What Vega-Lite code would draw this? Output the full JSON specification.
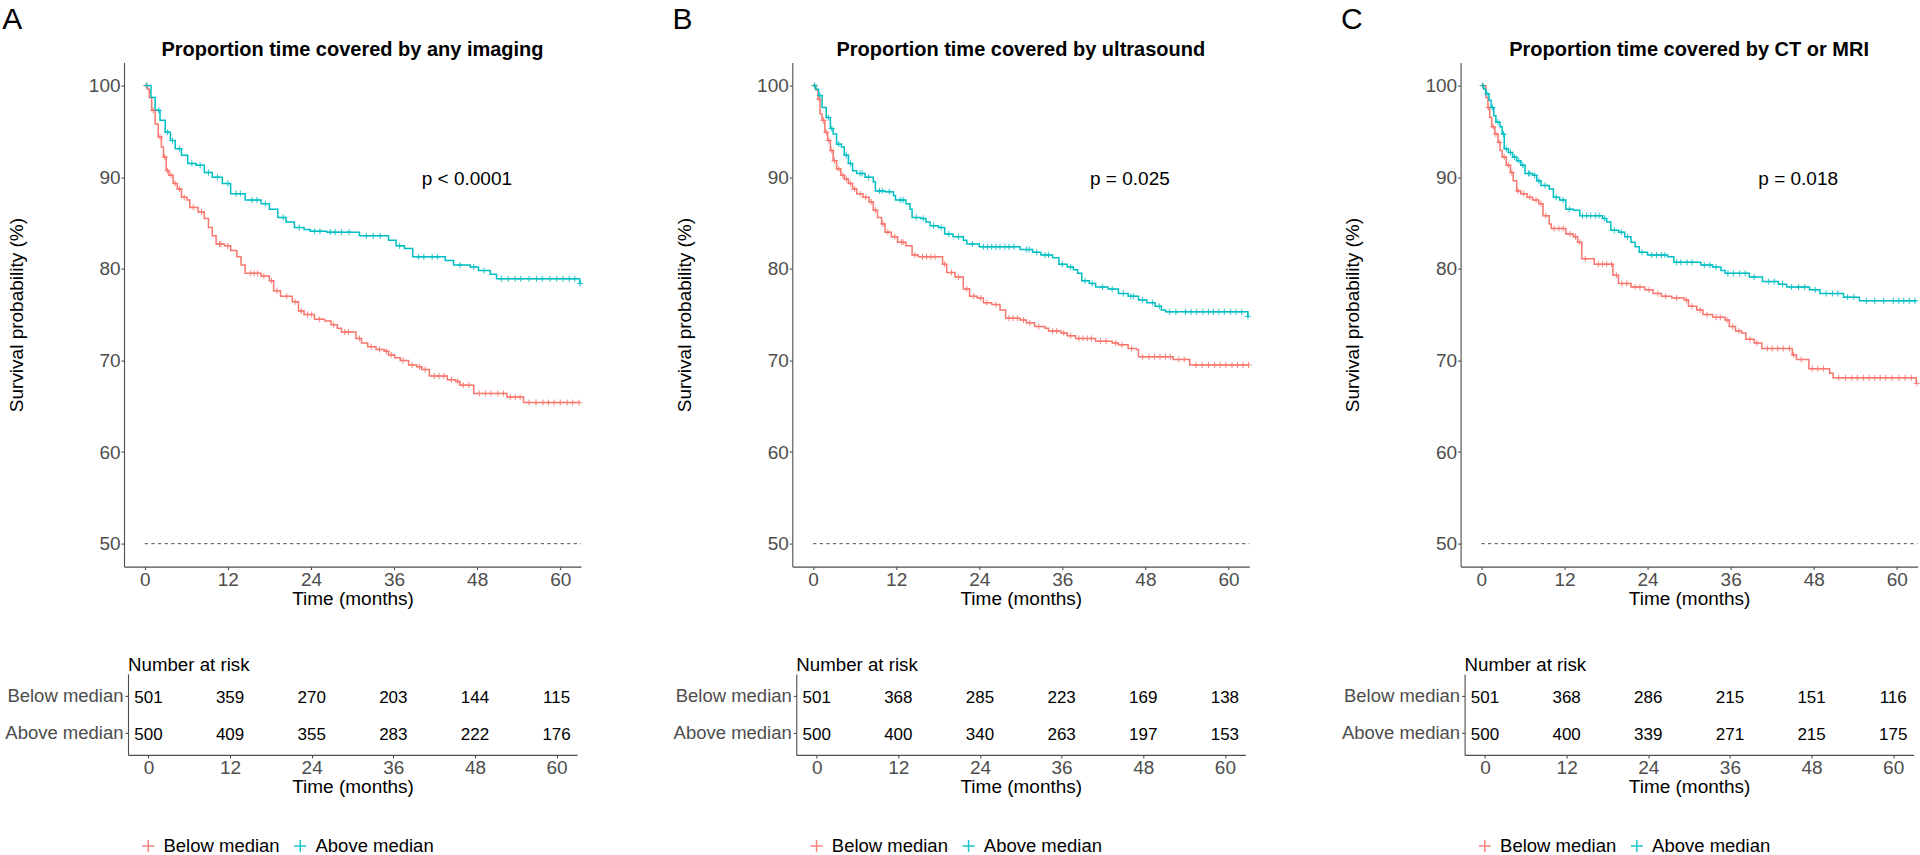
{
"$schema": "https://vega.github.io/schema/vega-lite/v6.json",
"padding": {"left": 2, "top": 4.6, "right": 4, "bottom": 4},
"background": "white",
"config": {
  "font": "Liberation Sans",
  "view": {"stroke": null},
  "axis": {"domainColor": "#4d4d4d", "tickColor": "#4d4d4d", "labelColor": "#4d4d4d", "labelFontSize": 19, "titleFontSize": 19, "titleFontWeight": "normal", "titleColor": "black", "grid": false, "tickSize": 3, "domainWidth": 1.1, "tickWidth": 1.1, "labelFlush": false, "labelOverlap": false},
  "title": {"color": "black", "font": "Liberation Sans"},
  "legend": {"labelFont": "Liberation Sans", "orient": "none", "legendX": 15, "legendY": 774, "direction": "horizontal", "title": null, "symbolType": "M-1,0H1M0,-1V1", "symbolSize": 144, "symbolStrokeWidth": 1.5, "symbolFillColor": "transparent", "labelFontSize": 18.5, "labelColor": "black", "labelOffset": 6, "columnPadding": 11, "padding": 0}
},
"resolve": {"scale": {"color": "independent"}, "legend": {"color": "independent"}},
"datasets": {
"A": [
{"g":"Below median","k":"s","t":0,"s":100},{"g":"Below median","k":"s","t":0.4,"s":99.6},{"g":"Below median","k":"s","t":0.65,"s":98.7},{"g":"Below median","k":"s","t":1.0,"s":97.3},{"g":"Below median","k":"s","t":1.5,"s":95.8},{"g":"Below median","k":"s","t":1.95,"s":94.4},{"g":"Below median","k":"s","t":2.4,"s":93.3},{"g":"Below median","k":"s","t":2.7,"s":92.2},{"g":"Below median","k":"s","t":3.1,"s":90.7},{"g":"Below median","k":"s","t":3.5,"s":90.2},{"g":"Below median","k":"s","t":4.1,"s":89.3},{"g":"Below median","k":"s","t":4.7,"s":88.7},{"g":"Below median","k":"s","t":5.3,"s":87.8},{"g":"Below median","k":"s","t":6.1,"s":87.5},{"g":"Below median","k":"s","t":6.5,"s":86.7},{"g":"Below median","k":"s","t":7.7,"s":86.2},{"g":"Below median","k":"s","t":8.6,"s":85.5},{"g":"Below median","k":"s","t":9.2,"s":84.5},{"g":"Below median","k":"s","t":9.75,"s":83.6},{"g":"Below median","k":"s","t":10.3,"s":82.7},{"g":"Below median","k":"s","t":11.5,"s":82.5},{"g":"Below median","k":"s","t":12.4,"s":82.0},{"g":"Below median","k":"s","t":13.3,"s":81.3},{"g":"Below median","k":"s","t":13.9,"s":80.4},{"g":"Below median","k":"s","t":14.5,"s":79.5},{"g":"Below median","k":"s","t":16.8,"s":79.2},{"g":"Below median","k":"s","t":18.0,"s":78.7},{"g":"Below median","k":"s","t":18.6,"s":77.6},{"g":"Below median","k":"s","t":19.6,"s":77.0},{"g":"Below median","k":"s","t":21.3,"s":76.4},{"g":"Below median","k":"s","t":22.2,"s":75.4},{"g":"Below median","k":"s","t":23.0,"s":75.0},{"g":"Below median","k":"s","t":24.5,"s":74.5},{"g":"Below median","k":"s","t":26.0,"s":74.3},{"g":"Below median","k":"s","t":26.9,"s":73.9},{"g":"Below median","k":"s","t":27.8,"s":73.5},{"g":"Below median","k":"s","t":28.4,"s":73.1},{"g":"Below median","k":"s","t":30.5,"s":72.4},{"g":"Below median","k":"s","t":31.3,"s":71.9},{"g":"Below median","k":"s","t":32.2,"s":71.5},{"g":"Below median","k":"s","t":33.4,"s":71.2},{"g":"Below median","k":"s","t":34.6,"s":71.0},{"g":"Below median","k":"s","t":35.2,"s":70.6},{"g":"Below median","k":"s","t":36.1,"s":70.3},{"g":"Below median","k":"s","t":36.9,"s":70.0},{"g":"Below median","k":"s","t":38.1,"s":69.5},{"g":"Below median","k":"s","t":39.3,"s":69.3},{"g":"Below median","k":"s","t":40.0,"s":69.0},{"g":"Below median","k":"s","t":41.1,"s":68.3},{"g":"Below median","k":"s","t":43.7,"s":67.9},{"g":"Below median","k":"s","t":44.9,"s":67.7},{"g":"Below median","k":"s","t":45.5,"s":67.3},{"g":"Below median","k":"s","t":47.5,"s":66.4},{"g":"Below median","k":"s","t":52.3,"s":66.0},{"g":"Below median","k":"s","t":54.7,"s":65.4},{"g":"Below median","k":"s","t":62.9,"s":65.4},
{"g":"Above median","k":"s","t":0,"s":100},{"g":"Above median","k":"s","t":0.9,"s":98.7},{"g":"Above median","k":"s","t":1.5,"s":97.3},{"g":"Above median","k":"s","t":2.2,"s":96.2},{"g":"Above median","k":"s","t":2.95,"s":94.9},{"g":"Above median","k":"s","t":3.7,"s":94.0},{"g":"Above median","k":"s","t":4.4,"s":93.1},{"g":"Above median","k":"s","t":5.3,"s":92.4},{"g":"Above median","k":"s","t":6.2,"s":91.5},{"g":"Above median","k":"s","t":7.4,"s":91.3},{"g":"Above median","k":"s","t":8.6,"s":90.5},{"g":"Above median","k":"s","t":9.75,"s":90.0},{"g":"Above median","k":"s","t":11.2,"s":89.3},{"g":"Above median","k":"s","t":12.4,"s":88.2},{"g":"Above median","k":"s","t":14.5,"s":87.5},{"g":"Above median","k":"s","t":16.8,"s":87.1},{"g":"Above median","k":"s","t":18.0,"s":86.5},{"g":"Above median","k":"s","t":19.2,"s":85.6},{"g":"Above median","k":"s","t":20.4,"s":85.1},{"g":"Above median","k":"s","t":21.6,"s":84.5},{"g":"Above median","k":"s","t":23.0,"s":84.3},{"g":"Above median","k":"s","t":23.9,"s":84.1},{"g":"Above median","k":"s","t":26.3,"s":84.0},{"g":"Above median","k":"s","t":31.0,"s":83.6},{"g":"Above median","k":"s","t":35.2,"s":83.1},{"g":"Above median","k":"s","t":36.3,"s":82.5},{"g":"Above median","k":"s","t":37.5,"s":82.2},{"g":"Above median","k":"s","t":38.7,"s":81.3},{"g":"Above median","k":"s","t":43.4,"s":80.9},{"g":"Above median","k":"s","t":44.6,"s":80.4},{"g":"Above median","k":"s","t":47.0,"s":80.2},{"g":"Above median","k":"s","t":48.2,"s":79.8},{"g":"Above median","k":"s","t":49.9,"s":79.4},{"g":"Above median","k":"s","t":50.8,"s":78.9},{"g":"Above median","k":"s","t":62.8,"s":78.4},{"g":"Above median","k":"s","t":62.9,"s":78.4},
{"g":"Below median","k":"c","t":0.2,"s":100},{"g":"Below median","k":"c","t":1.2,"s":97.3},{"g":"Below median","k":"c","t":2.2,"s":94.4},{"g":"Below median","k":"c","t":2.9,"s":92.2},{"g":"Below median","k":"c","t":3.3,"s":90.7},{"g":"Below median","k":"c","t":3.8,"s":90.2},{"g":"Below median","k":"c","t":4.4,"s":89.3},{"g":"Below median","k":"c","t":5.0,"s":88.7},{"g":"Below median","k":"c","t":5.7,"s":87.8},{"g":"Below median","k":"c","t":7.0,"s":86.7},{"g":"Below median","k":"c","t":8.2,"s":86.2},{"g":"Below median","k":"c","t":10.8,"s":82.7},{"g":"Below median","k":"c","t":11.0,"s":82.7},{"g":"Below median","k":"c","t":12.0,"s":82.5},{"g":"Below median","k":"c","t":15.3,"s":79.5},{"g":"Below median","k":"c","t":15.8,"s":79.5},{"g":"Below median","k":"c","t":16.3,"s":79.5},{"g":"Below median","k":"c","t":17.2,"s":79.2},{"g":"Below median","k":"c","t":18.3,"s":78.7},{"g":"Below median","k":"c","t":19.1,"s":77.6},{"g":"Below median","k":"c","t":20.5,"s":77.0},{"g":"Below median","k":"c","t":21.7,"s":76.4},{"g":"Below median","k":"c","t":22.6,"s":75.4},{"g":"Below median","k":"c","t":23.5,"s":75.0},{"g":"Below median","k":"c","t":24.1,"s":75.0},{"g":"Below median","k":"c","t":25.2,"s":74.5},{"g":"Below median","k":"c","t":27.3,"s":73.9},{"g":"Below median","k":"c","t":28.9,"s":73.1},{"g":"Below median","k":"c","t":29.4,"s":73.1},{"g":"Below median","k":"c","t":31.0,"s":72.4},{"g":"Below median","k":"c","t":32.7,"s":71.5},{"g":"Below median","k":"c","t":33.9,"s":71.2},{"g":"Below median","k":"c","t":34.9,"s":71.0},{"g":"Below median","k":"c","t":35.6,"s":70.6},{"g":"Below median","k":"c","t":37.3,"s":70.0},{"g":"Below median","k":"c","t":38.6,"s":69.5},{"g":"Below median","k":"c","t":39.7,"s":69.3},{"g":"Below median","k":"c","t":40.5,"s":69.0},{"g":"Below median","k":"c","t":41.8,"s":68.3},{"g":"Below median","k":"c","t":42.5,"s":68.3},{"g":"Below median","k":"c","t":43.2,"s":68.3},{"g":"Below median","k":"c","t":44.3,"s":67.9},{"g":"Below median","k":"c","t":45.2,"s":67.7},{"g":"Below median","k":"c","t":46.0,"s":67.3},{"g":"Below median","k":"c","t":46.8,"s":67.3},{"g":"Below median","k":"c","t":48.3,"s":66.4},{"g":"Below median","k":"c","t":49.2,"s":66.4},{"g":"Below median","k":"c","t":50.0,"s":66.4},{"g":"Below median","k":"c","t":51.0,"s":66.4},{"g":"Below median","k":"c","t":51.8,"s":66.4},{"g":"Below median","k":"c","t":52.8,"s":66.0},{"g":"Below median","k":"c","t":53.5,"s":66.0},{"g":"Below median","k":"c","t":54.2,"s":66.0},{"g":"Below median","k":"c","t":55.5,"s":65.4},{"g":"Below median","k":"c","t":56.5,"s":65.4},{"g":"Below median","k":"c","t":57.5,"s":65.4},{"g":"Below median","k":"c","t":58.3,"s":65.4},{"g":"Below median","k":"c","t":59.1,"s":65.4},{"g":"Below median","k":"c","t":60.0,"s":65.4},{"g":"Below median","k":"c","t":61.0,"s":65.4},{"g":"Below median","k":"c","t":61.8,"s":65.4},{"g":"Below median","k":"c","t":62.7,"s":65.4},
{"g":"Above median","k":"c","t":0.3,"s":100},{"g":"Above median","k":"c","t":2.0,"s":97.3},{"g":"Above median","k":"c","t":3.3,"s":94.9},{"g":"Above median","k":"c","t":4.0,"s":94.0},{"g":"Above median","k":"c","t":5.0,"s":93.1},{"g":"Above median","k":"c","t":6.8,"s":91.5},{"g":"Above median","k":"c","t":8.0,"s":91.3},{"g":"Above median","k":"c","t":9.2,"s":90.5},{"g":"Above median","k":"c","t":10.5,"s":90.0},{"g":"Above median","k":"c","t":12.0,"s":89.3},{"g":"Above median","k":"c","t":13.2,"s":88.2},{"g":"Above median","k":"c","t":13.8,"s":88.2},{"g":"Above median","k":"c","t":15.5,"s":87.5},{"g":"Above median","k":"c","t":16.2,"s":87.5},{"g":"Above median","k":"c","t":17.4,"s":87.1},{"g":"Above median","k":"c","t":20.0,"s":85.6},{"g":"Above median","k":"c","t":22.3,"s":84.5},{"g":"Above median","k":"c","t":24.5,"s":84.1},{"g":"Above median","k":"c","t":25.3,"s":84.1},{"g":"Above median","k":"c","t":26.8,"s":84.0},{"g":"Above median","k":"c","t":27.5,"s":84.0},{"g":"Above median","k":"c","t":28.4,"s":84.0},{"g":"Above median","k":"c","t":29.5,"s":84.0},{"g":"Above median","k":"c","t":32.0,"s":83.6},{"g":"Above median","k":"c","t":33.0,"s":83.6},{"g":"Above median","k":"c","t":34.0,"s":83.6},{"g":"Above median","k":"c","t":36.8,"s":82.5},{"g":"Above median","k":"c","t":39.5,"s":81.3},{"g":"Above median","k":"c","t":40.3,"s":81.3},{"g":"Above median","k":"c","t":41.5,"s":81.3},{"g":"Above median","k":"c","t":42.3,"s":81.3},{"g":"Above median","k":"c","t":45.5,"s":80.4},{"g":"Above median","k":"c","t":47.5,"s":80.2},{"g":"Above median","k":"c","t":49.0,"s":79.8},{"g":"Above median","k":"c","t":51.5,"s":78.9},{"g":"Above median","k":"c","t":52.5,"s":78.9},{"g":"Above median","k":"c","t":53.5,"s":78.9},{"g":"Above median","k":"c","t":54.3,"s":78.9},{"g":"Above median","k":"c","t":55.5,"s":78.9},{"g":"Above median","k":"c","t":56.6,"s":78.9},{"g":"Above median","k":"c","t":57.4,"s":78.9},{"g":"Above median","k":"c","t":58.5,"s":78.9},{"g":"Above median","k":"c","t":59.5,"s":78.9},{"g":"Above median","k":"c","t":60.4,"s":78.9},{"g":"Above median","k":"c","t":61.3,"s":78.9},{"g":"Above median","k":"c","t":62.1,"s":78.9},{"g":"Above median","k":"c","t":62.9,"s":78.4}
],
"B": [
{"g":"Below median","k":"s","t":0,"s":100},{"g":"Below median","k":"s","t":0.4,"s":99.5},{"g":"Below median","k":"s","t":0.7,"s":98.5},{"g":"Below median","k":"s","t":1.0,"s":96.9},{"g":"Below median","k":"s","t":1.3,"s":96.2},{"g":"Below median","k":"s","t":1.7,"s":94.9},{"g":"Below median","k":"s","t":2.1,"s":94.0},{"g":"Below median","k":"s","t":2.5,"s":92.9},{"g":"Below median","k":"s","t":2.9,"s":91.8},{"g":"Below median","k":"s","t":3.4,"s":90.9},{"g":"Below median","k":"s","t":4.0,"s":90.2},{"g":"Below median","k":"s","t":4.5,"s":89.8},{"g":"Below median","k":"s","t":5.1,"s":89.3},{"g":"Below median","k":"s","t":5.7,"s":88.7},{"g":"Below median","k":"s","t":6.3,"s":88.2},{"g":"Below median","k":"s","t":7.2,"s":87.8},{"g":"Below median","k":"s","t":8.1,"s":87.3},{"g":"Below median","k":"s","t":8.7,"s":86.4},{"g":"Below median","k":"s","t":9.3,"s":85.6},{"g":"Below median","k":"s","t":9.9,"s":84.9},{"g":"Below median","k":"s","t":10.4,"s":84.0},{"g":"Below median","k":"s","t":11.3,"s":83.5},{"g":"Below median","k":"s","t":12.2,"s":82.9},{"g":"Below median","k":"s","t":13.4,"s":82.5},{"g":"Below median","k":"s","t":14.3,"s":81.5},{"g":"Below median","k":"s","t":15.2,"s":81.3},{"g":"Below median","k":"s","t":18.7,"s":80.5},{"g":"Below median","k":"s","t":19.3,"s":79.6},{"g":"Below median","k":"s","t":20.5,"s":79.1},{"g":"Below median","k":"s","t":21.7,"s":77.8},{"g":"Below median","k":"s","t":22.6,"s":77.0},{"g":"Below median","k":"s","t":23.7,"s":76.8},{"g":"Below median","k":"s","t":24.6,"s":76.3},{"g":"Below median","k":"s","t":25.8,"s":76.1},{"g":"Below median","k":"s","t":27.0,"s":75.5},{"g":"Below median","k":"s","t":27.8,"s":74.6},{"g":"Below median","k":"s","t":29.9,"s":74.4},{"g":"Below median","k":"s","t":30.8,"s":74.1},{"g":"Below median","k":"s","t":32.0,"s":73.7},{"g":"Below median","k":"s","t":33.5,"s":73.5},{"g":"Below median","k":"s","t":34.0,"s":73.2},{"g":"Below median","k":"s","t":35.8,"s":73.0},{"g":"Below median","k":"s","t":36.7,"s":72.7},{"g":"Below median","k":"s","t":37.9,"s":72.4},{"g":"Below median","k":"s","t":40.8,"s":72.1},{"g":"Below median","k":"s","t":43.2,"s":71.9},{"g":"Below median","k":"s","t":44.1,"s":71.7},{"g":"Below median","k":"s","t":45.5,"s":71.3},{"g":"Below median","k":"s","t":46.7,"s":71.2},{"g":"Below median","k":"s","t":47.0,"s":70.4},{"g":"Below median","k":"s","t":52.0,"s":70.1},{"g":"Below median","k":"s","t":54.4,"s":69.5},{"g":"Below median","k":"s","t":62.9,"s":69.5},
{"g":"Above median","k":"s","t":0,"s":100},{"g":"Above median","k":"s","t":0.4,"s":99.6},{"g":"Above median","k":"s","t":0.8,"s":98.9},{"g":"Above median","k":"s","t":1.3,"s":97.6},{"g":"Above median","k":"s","t":1.9,"s":96.5},{"g":"Above median","k":"s","t":2.5,"s":95.3},{"g":"Above median","k":"s","t":2.9,"s":94.7},{"g":"Above median","k":"s","t":3.4,"s":93.6},{"g":"Above median","k":"s","t":4.1,"s":93.3},{"g":"Above median","k":"s","t":4.5,"s":92.4},{"g":"Above median","k":"s","t":5.1,"s":91.5},{"g":"Above median","k":"s","t":5.7,"s":90.7},{"g":"Above median","k":"s","t":6.3,"s":90.4},{"g":"Above median","k":"s","t":7.5,"s":90.0},{"g":"Above median","k":"s","t":8.7,"s":89.5},{"g":"Above median","k":"s","t":9.0,"s":88.5},{"g":"Above median","k":"s","t":10.4,"s":88.4},{"g":"Above median","k":"s","t":11.6,"s":88.0},{"g":"Above median","k":"s","t":11.9,"s":87.5},{"g":"Above median","k":"s","t":13.4,"s":87.1},{"g":"Above median","k":"s","t":14.0,"s":86.5},{"g":"Above median","k":"s","t":14.3,"s":85.6},{"g":"Above median","k":"s","t":15.5,"s":85.5},{"g":"Above median","k":"s","t":16.3,"s":85.1},{"g":"Above median","k":"s","t":16.9,"s":84.7},{"g":"Above median","k":"s","t":18.1,"s":84.5},{"g":"Above median","k":"s","t":19.0,"s":83.8},{"g":"Above median","k":"s","t":20.2,"s":83.5},{"g":"Above median","k":"s","t":21.7,"s":83.1},{"g":"Above median","k":"s","t":22.2,"s":82.7},{"g":"Above median","k":"s","t":24.0,"s":82.4},{"g":"Above median","k":"s","t":29.9,"s":82.1},{"g":"Above median","k":"s","t":31.7,"s":81.8},{"g":"Above median","k":"s","t":32.9,"s":81.5},{"g":"Above median","k":"s","t":34.6,"s":81.2},{"g":"Above median","k":"s","t":35.5,"s":80.5},{"g":"Above median","k":"s","t":36.7,"s":80.2},{"g":"Above median","k":"s","t":37.6,"s":79.9},{"g":"Above median","k":"s","t":38.2,"s":79.5},{"g":"Above median","k":"s","t":38.8,"s":78.7},{"g":"Above median","k":"s","t":39.9,"s":78.4},{"g":"Above median","k":"s","t":40.8,"s":78.0},{"g":"Above median","k":"s","t":42.6,"s":77.8},{"g":"Above median","k":"s","t":44.1,"s":77.3},{"g":"Above median","k":"s","t":45.5,"s":77.0},{"g":"Above median","k":"s","t":47.0,"s":76.6},{"g":"Above median","k":"s","t":48.2,"s":76.3},{"g":"Above median","k":"s","t":49.4,"s":75.9},{"g":"Above median","k":"s","t":50.3,"s":75.5},{"g":"Above median","k":"s","t":50.9,"s":75.3},{"g":"Above median","k":"s","t":62.8,"s":74.8},{"g":"Above median","k":"s","t":62.9,"s":74.8},
{"g":"Below median","k":"c","t":0.2,"s":100},{"g":"Below median","k":"c","t":0.9,"s":98.5},{"g":"Below median","k":"c","t":1.5,"s":96.2},{"g":"Below median","k":"c","t":1.9,"s":94.9},{"g":"Below median","k":"c","t":2.3,"s":94.0},{"g":"Below median","k":"c","t":2.7,"s":92.9},{"g":"Below median","k":"c","t":3.1,"s":91.8},{"g":"Below median","k":"c","t":3.7,"s":90.9},{"g":"Below median","k":"c","t":4.3,"s":90.2},{"g":"Below median","k":"c","t":4.8,"s":89.8},{"g":"Below median","k":"c","t":5.4,"s":89.3},{"g":"Below median","k":"c","t":6.0,"s":88.7},{"g":"Below median","k":"c","t":6.8,"s":88.2},{"g":"Below median","k":"c","t":7.6,"s":87.8},{"g":"Below median","k":"c","t":8.4,"s":87.3},{"g":"Below median","k":"c","t":9.0,"s":86.4},{"g":"Below median","k":"c","t":10.1,"s":84.9},{"g":"Below median","k":"c","t":10.8,"s":84.0},{"g":"Below median","k":"c","t":11.8,"s":83.5},{"g":"Below median","k":"c","t":12.8,"s":82.9},{"g":"Below median","k":"c","t":13.0,"s":82.9},{"g":"Below median","k":"c","t":14.7,"s":81.5},{"g":"Below median","k":"c","t":15.8,"s":81.3},{"g":"Below median","k":"c","t":16.4,"s":81.3},{"g":"Below median","k":"c","t":17.0,"s":81.3},{"g":"Below median","k":"c","t":17.6,"s":81.3},{"g":"Below median","k":"c","t":19.0,"s":80.5},{"g":"Below median","k":"c","t":20.0,"s":79.6},{"g":"Below median","k":"c","t":21.0,"s":79.1},{"g":"Below median","k":"c","t":22.2,"s":77.8},{"g":"Below median","k":"c","t":23.2,"s":77.0},{"g":"Below median","k":"c","t":24.2,"s":76.8},{"g":"Below median","k":"c","t":25.1,"s":76.3},{"g":"Below median","k":"c","t":26.4,"s":76.1},{"g":"Below median","k":"c","t":28.3,"s":74.6},{"g":"Below median","k":"c","t":28.9,"s":74.6},{"g":"Below median","k":"c","t":29.5,"s":74.6},{"g":"Below median","k":"c","t":30.4,"s":74.4},{"g":"Below median","k":"c","t":31.3,"s":74.1},{"g":"Below median","k":"c","t":32.6,"s":73.7},{"g":"Below median","k":"c","t":34.6,"s":73.2},{"g":"Below median","k":"c","t":35.2,"s":73.2},{"g":"Below median","k":"c","t":36.2,"s":73.0},{"g":"Below median","k":"c","t":37.2,"s":72.7},{"g":"Below median","k":"c","t":38.4,"s":72.4},{"g":"Below median","k":"c","t":39.0,"s":72.4},{"g":"Below median","k":"c","t":39.6,"s":72.4},{"g":"Below median","k":"c","t":40.2,"s":72.4},{"g":"Below median","k":"c","t":41.5,"s":72.1},{"g":"Below median","k":"c","t":42.3,"s":72.1},{"g":"Below median","k":"c","t":43.7,"s":71.9},{"g":"Below median","k":"c","t":44.6,"s":71.7},{"g":"Below median","k":"c","t":46.0,"s":71.3},{"g":"Below median","k":"c","t":47.6,"s":70.4},{"g":"Below median","k":"c","t":48.5,"s":70.4},{"g":"Below median","k":"c","t":49.3,"s":70.4},{"g":"Below median","k":"c","t":50.1,"s":70.4},{"g":"Below median","k":"c","t":50.9,"s":70.4},{"g":"Below median","k":"c","t":51.6,"s":70.4},{"g":"Below median","k":"c","t":52.8,"s":70.1},{"g":"Below median","k":"c","t":53.6,"s":70.1},{"g":"Below median","k":"c","t":55.3,"s":69.5},{"g":"Below median","k":"c","t":56.2,"s":69.5},{"g":"Below median","k":"c","t":57.1,"s":69.5},{"g":"Below median","k":"c","t":58.0,"s":69.5},{"g":"Below median","k":"c","t":58.8,"s":69.5},{"g":"Below median","k":"c","t":59.6,"s":69.5},{"g":"Below median","k":"c","t":60.5,"s":69.5},{"g":"Below median","k":"c","t":61.3,"s":69.5},{"g":"Below median","k":"c","t":62.1,"s":69.5},{"g":"Below median","k":"c","t":62.9,"s":69.5},
{"g":"Above median","k":"c","t":0.2,"s":100},{"g":"Above median","k":"c","t":1.0,"s":98.9},{"g":"Above median","k":"c","t":2.2,"s":96.5},{"g":"Above median","k":"c","t":2.7,"s":95.3},{"g":"Above median","k":"c","t":3.7,"s":93.6},{"g":"Above median","k":"c","t":4.8,"s":92.4},{"g":"Above median","k":"c","t":5.4,"s":91.5},{"g":"Above median","k":"c","t":6.8,"s":90.4},{"g":"Above median","k":"c","t":7.1,"s":90.4},{"g":"Above median","k":"c","t":8.0,"s":90.0},{"g":"Above median","k":"c","t":9.6,"s":88.5},{"g":"Above median","k":"c","t":10.0,"s":88.5},{"g":"Above median","k":"c","t":11.0,"s":88.4},{"g":"Above median","k":"c","t":12.6,"s":87.5},{"g":"Above median","k":"c","t":13.0,"s":87.5},{"g":"Above median","k":"c","t":14.9,"s":85.6},{"g":"Above median","k":"c","t":15.9,"s":85.5},{"g":"Above median","k":"c","t":17.4,"s":84.7},{"g":"Above median","k":"c","t":18.5,"s":84.5},{"g":"Above median","k":"c","t":19.6,"s":83.8},{"g":"Above median","k":"c","t":21.0,"s":83.5},{"g":"Above median","k":"c","t":23.0,"s":82.7},{"g":"Above median","k":"c","t":24.6,"s":82.4},{"g":"Above median","k":"c","t":25.2,"s":82.4},{"g":"Above median","k":"c","t":25.8,"s":82.4},{"g":"Above median","k":"c","t":26.4,"s":82.4},{"g":"Above median","k":"c","t":27.0,"s":82.4},{"g":"Above median","k":"c","t":27.7,"s":82.4},{"g":"Above median","k":"c","t":28.3,"s":82.4},{"g":"Above median","k":"c","t":29.0,"s":82.4},{"g":"Above median","k":"c","t":30.8,"s":82.1},{"g":"Above median","k":"c","t":31.2,"s":82.1},{"g":"Above median","k":"c","t":32.3,"s":81.8},{"g":"Above median","k":"c","t":33.5,"s":81.5},{"g":"Above median","k":"c","t":34.0,"s":81.5},{"g":"Above median","k":"c","t":36.0,"s":80.5},{"g":"Above median","k":"c","t":37.2,"s":80.2},{"g":"Above median","k":"c","t":39.3,"s":78.7},{"g":"Above median","k":"c","t":40.3,"s":78.4},{"g":"Above median","k":"c","t":41.8,"s":78.0},{"g":"Above median","k":"c","t":43.2,"s":77.8},{"g":"Above median","k":"c","t":44.8,"s":77.3},{"g":"Above median","k":"c","t":45.9,"s":77.0},{"g":"Above median","k":"c","t":46.3,"s":77.0},{"g":"Above median","k":"c","t":47.6,"s":76.6},{"g":"Above median","k":"c","t":49.0,"s":76.3},{"g":"Above median","k":"c","t":50.0,"s":75.9},{"g":"Above median","k":"c","t":51.5,"s":75.3},{"g":"Above median","k":"c","t":52.4,"s":75.3},{"g":"Above median","k":"c","t":53.8,"s":75.3},{"g":"Above median","k":"c","t":54.6,"s":75.3},{"g":"Above median","k":"c","t":55.4,"s":75.3},{"g":"Above median","k":"c","t":56.3,"s":75.3},{"g":"Above median","k":"c","t":57.1,"s":75.3},{"g":"Above median","k":"c","t":57.8,"s":75.3},{"g":"Above median","k":"c","t":58.6,"s":75.3},{"g":"Above median","k":"c","t":59.4,"s":75.3},{"g":"Above median","k":"c","t":60.3,"s":75.3},{"g":"Above median","k":"c","t":61.1,"s":75.3},{"g":"Above median","k":"c","t":61.9,"s":75.3},{"g":"Above median","k":"c","t":62.8,"s":74.8}
],
"C": [
{"g":"Below median","k":"s","t":0,"s":100},{"g":"Below median","k":"s","t":0.65,"s":98.7},{"g":"Below median","k":"s","t":0.95,"s":97.6},{"g":"Below median","k":"s","t":1.2,"s":96.5},{"g":"Below median","k":"s","t":1.5,"s":95.5},{"g":"Below median","k":"s","t":1.95,"s":94.7},{"g":"Below median","k":"s","t":2.4,"s":93.8},{"g":"Below median","k":"s","t":2.7,"s":92.9},{"g":"Below median","k":"s","t":3.0,"s":92.2},{"g":"Below median","k":"s","t":3.6,"s":91.3},{"g":"Below median","k":"s","t":4.2,"s":90.5},{"g":"Below median","k":"s","t":4.6,"s":89.6},{"g":"Below median","k":"s","t":5.1,"s":88.5},{"g":"Below median","k":"s","t":5.7,"s":88.2},{"g":"Below median","k":"s","t":6.6,"s":87.8},{"g":"Below median","k":"s","t":7.4,"s":87.5},{"g":"Below median","k":"s","t":8.3,"s":87.1},{"g":"Below median","k":"s","t":8.9,"s":85.8},{"g":"Below median","k":"s","t":9.8,"s":84.9},{"g":"Below median","k":"s","t":10.1,"s":84.4},{"g":"Below median","k":"s","t":12.2,"s":83.8},{"g":"Below median","k":"s","t":13.3,"s":83.5},{"g":"Below median","k":"s","t":13.9,"s":82.9},{"g":"Below median","k":"s","t":14.5,"s":81.1},{"g":"Below median","k":"s","t":16.3,"s":80.5},{"g":"Below median","k":"s","t":19.0,"s":79.3},{"g":"Below median","k":"s","t":19.8,"s":78.4},{"g":"Below median","k":"s","t":21.6,"s":78.0},{"g":"Below median","k":"s","t":23.6,"s":77.7},{"g":"Below median","k":"s","t":24.8,"s":77.3},{"g":"Below median","k":"s","t":26.0,"s":77.0},{"g":"Below median","k":"s","t":27.5,"s":76.8},{"g":"Below median","k":"s","t":29.3,"s":76.6},{"g":"Below median","k":"s","t":29.9,"s":75.9},{"g":"Below median","k":"s","t":31.1,"s":75.5},{"g":"Below median","k":"s","t":32.0,"s":75.0},{"g":"Below median","k":"s","t":33.4,"s":74.7},{"g":"Below median","k":"s","t":35.2,"s":74.4},{"g":"Below median","k":"s","t":35.8,"s":73.7},{"g":"Below median","k":"s","t":36.7,"s":73.2},{"g":"Below median","k":"s","t":37.6,"s":73.0},{"g":"Below median","k":"s","t":38.2,"s":72.3},{"g":"Below median","k":"s","t":39.4,"s":71.9},{"g":"Below median","k":"s","t":40.5,"s":71.3},{"g":"Below median","k":"s","t":44.9,"s":70.6},{"g":"Below median","k":"s","t":45.5,"s":70.1},{"g":"Below median","k":"s","t":47.3,"s":69.1},{"g":"Below median","k":"s","t":50.3,"s":68.6},{"g":"Below median","k":"s","t":50.8,"s":68.1},{"g":"Below median","k":"s","t":62.8,"s":67.5},{"g":"Below median","k":"s","t":62.9,"s":67.5},
{"g":"Above median","k":"s","t":0,"s":100},{"g":"Above median","k":"s","t":0.35,"s":99.6},{"g":"Above median","k":"s","t":0.65,"s":99.1},{"g":"Above median","k":"s","t":1.1,"s":98.4},{"g":"Above median","k":"s","t":1.4,"s":97.6},{"g":"Above median","k":"s","t":1.8,"s":96.7},{"g":"Above median","k":"s","t":2.1,"s":96.0},{"g":"Above median","k":"s","t":2.7,"s":95.5},{"g":"Above median","k":"s","t":3.0,"s":94.7},{"g":"Above median","k":"s","t":3.3,"s":93.1},{"g":"Above median","k":"s","t":3.9,"s":92.7},{"g":"Above median","k":"s","t":4.5,"s":92.2},{"g":"Above median","k":"s","t":5.1,"s":91.8},{"g":"Above median","k":"s","t":5.7,"s":91.3},{"g":"Above median","k":"s","t":6.3,"s":90.4},{"g":"Above median","k":"s","t":7.4,"s":90.2},{"g":"Above median","k":"s","t":8.0,"s":89.6},{"g":"Above median","k":"s","t":8.6,"s":89.1},{"g":"Above median","k":"s","t":9.8,"s":88.7},{"g":"Above median","k":"s","t":10.4,"s":87.8},{"g":"Above median","k":"s","t":11.3,"s":87.5},{"g":"Above median","k":"s","t":12.2,"s":86.5},{"g":"Above median","k":"s","t":13.3,"s":86.4},{"g":"Above median","k":"s","t":14.2,"s":85.8},{"g":"Above median","k":"s","t":17.5,"s":85.5},{"g":"Above median","k":"s","t":18.1,"s":85.1},{"g":"Above median","k":"s","t":18.7,"s":84.2},{"g":"Above median","k":"s","t":19.8,"s":84.0},{"g":"Above median","k":"s","t":20.7,"s":83.5},{"g":"Above median","k":"s","t":21.6,"s":82.9},{"g":"Above median","k":"s","t":22.2,"s":82.4},{"g":"Above median","k":"s","t":22.8,"s":81.8},{"g":"Above median","k":"s","t":24.0,"s":81.5},{"g":"Above median","k":"s","t":26.9,"s":81.3},{"g":"Above median","k":"s","t":27.8,"s":80.7},{"g":"Above median","k":"s","t":31.7,"s":80.4},{"g":"Above median","k":"s","t":33.4,"s":80.2},{"g":"Above median","k":"s","t":34.6,"s":79.8},{"g":"Above median","k":"s","t":35.2,"s":79.5},{"g":"Above median","k":"s","t":38.7,"s":79.1},{"g":"Above median","k":"s","t":40.6,"s":78.6},{"g":"Above median","k":"s","t":42.9,"s":78.3},{"g":"Above median","k":"s","t":44.1,"s":78.0},{"g":"Above median","k":"s","t":47.4,"s":77.7},{"g":"Above median","k":"s","t":48.9,"s":77.3},{"g":"Above median","k":"s","t":52.3,"s":76.9},{"g":"Above median","k":"s","t":54.6,"s":76.5},{"g":"Above median","k":"s","t":62.9,"s":76.5},
{"g":"Below median","k":"c","t":0.2,"s":100},{"g":"Below median","k":"c","t":1.0,"s":97.6},{"g":"Below median","k":"c","t":1.7,"s":95.5},{"g":"Below median","k":"c","t":2.1,"s":94.7},{"g":"Below median","k":"c","t":2.6,"s":93.8},{"g":"Below median","k":"c","t":3.3,"s":92.2},{"g":"Below median","k":"c","t":3.9,"s":91.3},{"g":"Below median","k":"c","t":4.4,"s":90.5},{"g":"Below median","k":"c","t":5.3,"s":88.5},{"g":"Below median","k":"c","t":6.1,"s":88.2},{"g":"Below median","k":"c","t":7.0,"s":87.8},{"g":"Below median","k":"c","t":7.9,"s":87.5},{"g":"Below median","k":"c","t":8.6,"s":87.1},{"g":"Below median","k":"c","t":9.3,"s":85.8},{"g":"Below median","k":"c","t":10.5,"s":84.4},{"g":"Below median","k":"c","t":11.2,"s":84.4},{"g":"Below median","k":"c","t":11.8,"s":84.4},{"g":"Below median","k":"c","t":12.8,"s":83.8},{"g":"Below median","k":"c","t":13.6,"s":83.5},{"g":"Below median","k":"c","t":14.2,"s":82.9},{"g":"Below median","k":"c","t":15.0,"s":81.1},{"g":"Below median","k":"c","t":16.9,"s":80.5},{"g":"Below median","k":"c","t":17.5,"s":80.5},{"g":"Below median","k":"c","t":18.1,"s":80.5},{"g":"Below median","k":"c","t":18.8,"s":80.5},{"g":"Below median","k":"c","t":19.5,"s":79.3},{"g":"Below median","k":"c","t":20.3,"s":78.4},{"g":"Below median","k":"c","t":21.0,"s":78.4},{"g":"Below median","k":"c","t":22.2,"s":78.0},{"g":"Below median","k":"c","t":22.9,"s":78.0},{"g":"Below median","k":"c","t":24.2,"s":77.7},{"g":"Below median","k":"c","t":25.5,"s":77.3},{"g":"Below median","k":"c","t":26.6,"s":77.0},{"g":"Below median","k":"c","t":28.2,"s":76.8},{"g":"Below median","k":"c","t":29.6,"s":76.6},{"g":"Below median","k":"c","t":30.4,"s":75.9},{"g":"Below median","k":"c","t":31.6,"s":75.5},{"g":"Below median","k":"c","t":32.6,"s":75.0},{"g":"Below median","k":"c","t":33.9,"s":74.7},{"g":"Below median","k":"c","t":34.5,"s":74.7},{"g":"Below median","k":"c","t":35.5,"s":74.4},{"g":"Below median","k":"c","t":36.3,"s":73.7},{"g":"Below median","k":"c","t":37.2,"s":73.2},{"g":"Below median","k":"c","t":38.8,"s":72.3},{"g":"Below median","k":"c","t":39.8,"s":71.9},{"g":"Below median","k":"c","t":41.3,"s":71.3},{"g":"Below median","k":"c","t":42.0,"s":71.3},{"g":"Below median","k":"c","t":42.8,"s":71.3},{"g":"Below median","k":"c","t":43.6,"s":71.3},{"g":"Below median","k":"c","t":44.5,"s":71.3},{"g":"Below median","k":"c","t":45.1,"s":70.6},{"g":"Below median","k":"c","t":46.2,"s":70.1},{"g":"Below median","k":"c","t":47.8,"s":69.1},{"g":"Below median","k":"c","t":48.6,"s":69.1},{"g":"Below median","k":"c","t":49.4,"s":69.1},{"g":"Below median","k":"c","t":51.6,"s":68.1},{"g":"Below median","k":"c","t":52.6,"s":68.1},{"g":"Below median","k":"c","t":53.5,"s":68.1},{"g":"Below median","k":"c","t":54.3,"s":68.1},{"g":"Below median","k":"c","t":55.2,"s":68.1},{"g":"Below median","k":"c","t":56.0,"s":68.1},{"g":"Below median","k":"c","t":56.8,"s":68.1},{"g":"Below median","k":"c","t":57.6,"s":68.1},{"g":"Below median","k":"c","t":58.4,"s":68.1},{"g":"Below median","k":"c","t":59.3,"s":68.1},{"g":"Below median","k":"c","t":60.3,"s":68.1},{"g":"Below median","k":"c","t":61.2,"s":68.1},{"g":"Below median","k":"c","t":62.1,"s":68.1},{"g":"Below median","k":"c","t":62.9,"s":67.5},
{"g":"Above median","k":"c","t":0.2,"s":100},{"g":"Above median","k":"c","t":0.8,"s":99.1},{"g":"Above median","k":"c","t":1.6,"s":97.6},{"g":"Above median","k":"c","t":2.4,"s":96.0},{"g":"Above median","k":"c","t":3.2,"s":94.7},{"g":"Above median","k":"c","t":3.6,"s":93.1},{"g":"Above median","k":"c","t":4.2,"s":92.7},{"g":"Above median","k":"c","t":4.8,"s":92.2},{"g":"Above median","k":"c","t":5.4,"s":91.8},{"g":"Above median","k":"c","t":6.0,"s":91.3},{"g":"Above median","k":"c","t":6.8,"s":90.4},{"g":"Above median","k":"c","t":7.0,"s":90.4},{"g":"Above median","k":"c","t":7.7,"s":90.2},{"g":"Above median","k":"c","t":8.3,"s":89.6},{"g":"Above median","k":"c","t":9.2,"s":89.1},{"g":"Above median","k":"c","t":10.8,"s":87.8},{"g":"Above median","k":"c","t":11.8,"s":87.5},{"g":"Above median","k":"c","t":12.7,"s":86.5},{"g":"Above median","k":"c","t":14.6,"s":85.8},{"g":"Above median","k":"c","t":15.2,"s":85.8},{"g":"Above median","k":"c","t":15.8,"s":85.8},{"g":"Above median","k":"c","t":16.5,"s":85.8},{"g":"Above median","k":"c","t":17.0,"s":85.8},{"g":"Above median","k":"c","t":17.8,"s":85.5},{"g":"Above median","k":"c","t":19.2,"s":84.2},{"g":"Above median","k":"c","t":20.2,"s":84.0},{"g":"Above median","k":"c","t":21.1,"s":83.5},{"g":"Above median","k":"c","t":23.2,"s":81.8},{"g":"Above median","k":"c","t":24.6,"s":81.5},{"g":"Above median","k":"c","t":25.3,"s":81.5},{"g":"Above median","k":"c","t":26.0,"s":81.5},{"g":"Above median","k":"c","t":26.5,"s":81.5},{"g":"Above median","k":"c","t":28.2,"s":80.7},{"g":"Above median","k":"c","t":28.8,"s":80.7},{"g":"Above median","k":"c","t":29.7,"s":80.7},{"g":"Above median","k":"c","t":30.4,"s":80.7},{"g":"Above median","k":"c","t":32.2,"s":80.4},{"g":"Above median","k":"c","t":33.0,"s":80.4},{"g":"Above median","k":"c","t":33.9,"s":80.2},{"g":"Above median","k":"c","t":35.6,"s":79.5},{"g":"Above median","k":"c","t":36.4,"s":79.5},{"g":"Above median","k":"c","t":37.3,"s":79.5},{"g":"Above median","k":"c","t":38.1,"s":79.5},{"g":"Above median","k":"c","t":39.4,"s":79.1},{"g":"Above median","k":"c","t":41.5,"s":78.6},{"g":"Above median","k":"c","t":42.3,"s":78.6},{"g":"Above median","k":"c","t":43.5,"s":78.3},{"g":"Above median","k":"c","t":44.8,"s":78.0},{"g":"Above median","k":"c","t":45.8,"s":78.0},{"g":"Above median","k":"c","t":46.7,"s":78.0},{"g":"Above median","k":"c","t":48.2,"s":77.7},{"g":"Above median","k":"c","t":49.8,"s":77.3},{"g":"Above median","k":"c","t":50.7,"s":77.3},{"g":"Above median","k":"c","t":51.5,"s":77.3},{"g":"Above median","k":"c","t":52.9,"s":76.9},{"g":"Above median","k":"c","t":53.8,"s":76.9},{"g":"Above median","k":"c","t":55.6,"s":76.5},{"g":"Above median","k":"c","t":56.8,"s":76.5},{"g":"Above median","k":"c","t":58.1,"s":76.5},{"g":"Above median","k":"c","t":59.5,"s":76.5},{"g":"Above median","k":"c","t":60.3,"s":76.5},{"g":"Above median","k":"c","t":61.0,"s":76.5},{"g":"Above median","k":"c","t":61.8,"s":76.5},{"g":"Above median","k":"c","t":62.6,"s":76.5}
],
"risk": [
{"p":"A","g":"Below median","t":0,"n":501},{"p":"A","g":"Below median","t":12,"n":359},{"p":"A","g":"Below median","t":24,"n":270},{"p":"A","g":"Below median","t":36,"n":203},{"p":"A","g":"Below median","t":48,"n":144},{"p":"A","g":"Below median","t":60,"n":115},
{"p":"A","g":"Above median","t":0,"n":500},{"p":"A","g":"Above median","t":12,"n":409},{"p":"A","g":"Above median","t":24,"n":355},{"p":"A","g":"Above median","t":36,"n":283},{"p":"A","g":"Above median","t":48,"n":222},{"p":"A","g":"Above median","t":60,"n":176},
{"p":"B","g":"Below median","t":0,"n":501},{"p":"B","g":"Below median","t":12,"n":368},{"p":"B","g":"Below median","t":24,"n":285},{"p":"B","g":"Below median","t":36,"n":223},{"p":"B","g":"Below median","t":48,"n":169},{"p":"B","g":"Below median","t":60,"n":138},
{"p":"B","g":"Above median","t":0,"n":500},{"p":"B","g":"Above median","t":12,"n":400},{"p":"B","g":"Above median","t":24,"n":340},{"p":"B","g":"Above median","t":36,"n":263},{"p":"B","g":"Above median","t":48,"n":197},{"p":"B","g":"Above median","t":60,"n":153},
{"p":"C","g":"Below median","t":0,"n":501},{"p":"C","g":"Below median","t":12,"n":368},{"p":"C","g":"Below median","t":24,"n":286},{"p":"C","g":"Below median","t":36,"n":215},{"p":"C","g":"Below median","t":48,"n":151},{"p":"C","g":"Below median","t":60,"n":116},
{"p":"C","g":"Above median","t":0,"n":500},{"p":"C","g":"Above median","t":12,"n":400},{"p":"C","g":"Above median","t":24,"n":339},{"p":"C","g":"Above median","t":36,"n":271},{"p":"C","g":"Above median","t":48,"n":215},{"p":"C","g":"Above median","t":60,"n":175}
]
},
"columns": 3,
"align": "each",
"bounds": "flush",
"spacing": {"row": 107.3, "column": 211.3},
"concat": [
{
 "width": 457, "height": 504,
 "layer": [
  {"data": {"name": "A"}, "transform": [{"filter": "datum.k == 's'"}],
   "mark": {"type": "line", "interpolate": "step-after", "strokeWidth": 1.5},
   "encoding": {
    "x": {"field": "t", "type": "quantitative", "scale": {"domain": [-3, 63], "nice": false, "zero": false}, "axis": {"values": [0,12,24,36,48,60], "title": "Time (months)", "labelPadding": 1, "titlePadding": 0}},
    "y": {"field": "s", "type": "quantitative", "scale": {"domain": [47.5, 102.5], "nice": false, "zero": false}, "axis": {"values": [50,60,70,80,90,100], "title": "Survival probability (%)", "labelPadding": 1, "titlePadding": 62}},
    "color": {"field": "g", "type": "nominal", "scale": {"domain": ["Below median", "Above median"], "range": ["#F8766D", "#00BFC4"]}}
   }},
  {"data": {"name": "A"}, "transform": [{"filter": "datum.k == 'c'"}],
   "mark": {"type": "point", "shape": "M-1,0H1M0,-1V1", "size": 36, "strokeWidth": 1, "filled": false, "opacity": 0.9},
   "encoding": {
    "x": {"field": "t", "type": "quantitative"},
    "y": {"field": "s", "type": "quantitative"},
    "color": {"field": "g", "type": "nominal"}
   }},
  {"data": {"values": [{}]}, "mark": {"type": "rule", "strokeDash": [3.3, 3.3], "color": "#4d4d4d", "strokeWidth": 1},
   "encoding": {"x": {"datum": 0, "type": "quantitative"}, "x2": {"datum": 63}, "y": {"datum": 50, "type": "quantitative"}}},
  {"data": {"values": [{}]}, "mark": {"type": "text", "align": "left", "baseline": "middle", "fontSize": 19, "color": "black"},
   "encoding": {"x": {"datum": 40, "type": "quantitative"}, "y": {"datum": 89.85, "type": "quantitative"}, "text": {"value": "p < 0.0001"}}},
  {"data": {"values": [{}]}, "mark": {"type": "text", "align": "center", "baseline": "alphabetic", "fontSize": 20, "fontWeight": "bold", "color": "black"},
   "encoding": {"x": {"datum": 30, "type": "quantitative"}, "y": {"datum": 103.26, "type": "quantitative"}, "text": {"value": "Proportion time covered by any imaging"}}},
  {"data": {"values": [{}]}, "mark": {"type": "text", "align": "left", "baseline": "alphabetic", "fontSize": 30, "color": "black"},
   "encoding": {"x": {"datum": -20.58, "type": "quantitative"}, "y": {"datum": 106.18, "type": "quantitative"}, "text": {"value": "A"}}}
 ]
},
{
 "width": 457, "height": 504,
 "layer": [
  {"data": {"name": "B"}, "transform": [{"filter": "datum.k == 's'"}],
   "mark": {"type": "line", "interpolate": "step-after", "strokeWidth": 1.5},
   "encoding": {
    "x": {"field": "t", "type": "quantitative", "scale": {"domain": [-3, 63], "nice": false, "zero": false}, "axis": {"values": [0,12,24,36,48,60], "title": "Time (months)", "labelPadding": 1, "titlePadding": 0}},
    "y": {"field": "s", "type": "quantitative", "scale": {"domain": [47.5, 102.5], "nice": false, "zero": false}, "axis": {"values": [50,60,70,80,90,100], "title": "Survival probability (%)", "labelPadding": 1, "titlePadding": 62}},
    "color": {"field": "g", "type": "nominal", "scale": {"domain": ["Below median", "Above median"], "range": ["#F8766D", "#00BFC4"]}}
   }},
  {"data": {"name": "B"}, "transform": [{"filter": "datum.k == 'c'"}],
   "mark": {"type": "point", "shape": "M-1,0H1M0,-1V1", "size": 36, "strokeWidth": 1, "filled": false, "opacity": 0.9},
   "encoding": {
    "x": {"field": "t", "type": "quantitative"},
    "y": {"field": "s", "type": "quantitative"},
    "color": {"field": "g", "type": "nominal"}
   }},
  {"data": {"values": [{}]}, "mark": {"type": "rule", "strokeDash": [3.3, 3.3], "color": "#4d4d4d", "strokeWidth": 1},
   "encoding": {"x": {"datum": 0, "type": "quantitative"}, "x2": {"datum": 63}, "y": {"datum": 50, "type": "quantitative"}}},
  {"data": {"values": [{}]}, "mark": {"type": "text", "align": "left", "baseline": "middle", "fontSize": 19, "color": "black"},
   "encoding": {"x": {"datum": 40, "type": "quantitative"}, "y": {"datum": 89.85, "type": "quantitative"}, "text": {"value": "p = 0.025"}}},
  {"data": {"values": [{}]}, "mark": {"type": "text", "align": "center", "baseline": "alphabetic", "fontSize": 20, "fontWeight": "bold", "color": "black"},
   "encoding": {"x": {"datum": 30, "type": "quantitative"}, "y": {"datum": 103.26, "type": "quantitative"}, "text": {"value": "Proportion time covered by ultrasound"}}},
  {"data": {"values": [{}]}, "mark": {"type": "text", "align": "left", "baseline": "alphabetic", "fontSize": 30, "color": "black"},
   "encoding": {"x": {"datum": -20.3, "type": "quantitative"}, "y": {"datum": 106.18, "type": "quantitative"}, "text": {"value": "B"}}}
 ]
},
{
 "width": 457, "height": 504,
 "layer": [
  {"data": {"name": "C"}, "transform": [{"filter": "datum.k == 's'"}],
   "mark": {"type": "line", "interpolate": "step-after", "strokeWidth": 1.5},
   "encoding": {
    "x": {"field": "t", "type": "quantitative", "scale": {"domain": [-3, 63], "nice": false, "zero": false}, "axis": {"values": [0,12,24,36,48,60], "title": "Time (months)", "labelPadding": 1, "titlePadding": 0}},
    "y": {"field": "s", "type": "quantitative", "scale": {"domain": [47.5, 102.5], "nice": false, "zero": false}, "axis": {"values": [50,60,70,80,90,100], "title": "Survival probability (%)", "labelPadding": 1, "titlePadding": 62}},
    "color": {"field": "g", "type": "nominal", "scale": {"domain": ["Below median", "Above median"], "range": ["#F8766D", "#00BFC4"]}}
   }},
  {"data": {"name": "C"}, "transform": [{"filter": "datum.k == 'c'"}],
   "mark": {"type": "point", "shape": "M-1,0H1M0,-1V1", "size": 36, "strokeWidth": 1, "filled": false, "opacity": 0.9},
   "encoding": {
    "x": {"field": "t", "type": "quantitative"},
    "y": {"field": "s", "type": "quantitative"},
    "color": {"field": "g", "type": "nominal"}
   }},
  {"data": {"values": [{}]}, "mark": {"type": "rule", "strokeDash": [3.3, 3.3], "color": "#4d4d4d", "strokeWidth": 1},
   "encoding": {"x": {"datum": 0, "type": "quantitative"}, "x2": {"datum": 63}, "y": {"datum": 50, "type": "quantitative"}}},
  {"data": {"values": [{}]}, "mark": {"type": "text", "align": "left", "baseline": "middle", "fontSize": 19, "color": "black"},
   "encoding": {"x": {"datum": 40, "type": "quantitative"}, "y": {"datum": 89.85, "type": "quantitative"}, "text": {"value": "p = 0.018"}}},
  {"data": {"values": [{}]}, "mark": {"type": "text", "align": "center", "baseline": "alphabetic", "fontSize": 20, "fontWeight": "bold", "color": "black"},
   "encoding": {"x": {"datum": 30, "type": "quantitative"}, "y": {"datum": 103.26, "type": "quantitative"}, "text": {"value": "Proportion time covered by CT or MRI"}}},
  {"data": {"values": [{}]}, "mark": {"type": "text", "align": "left", "baseline": "alphabetic", "fontSize": 30, "color": "black"},
   "encoding": {"x": {"datum": -20.27, "type": "quantitative"}, "y": {"datum": 106.18, "type": "quantitative"}, "text": {"value": "C"}}}
 ]
},
{
 "width": 457, "height": 81,
 "title": {"text": "Number at risk", "fontSize": 18.7, "fontWeight": "normal", "anchor": "start", "frame": "group", "dx": 4, "offset": -1},
 "data": {"name": "risk"},
 "transform": [{"filter": "datum.p == 'A'"}],
 "mark": {"type": "text", "fontSize": 17, "color": "black", "align": "center", "baseline": "middle", "dy": 2},
 "encoding": {
  "x": {"field": "t", "type": "quantitative", "scale": {"domain": [-3, 63], "range": [4, 453], "nice": false, "zero": false}, "axis": {"values": [0,12,24,36,48,60], "title": "Time (months)", "labelPadding": 1, "titlePadding": 0}},
  "y": {"field": "g", "type": "nominal", "scale": {"type": "point", "domain": ["Below median", "Above median"], "padding": 0.6}, "axis": {"title": null, "offset": -4, "labelPadding": 2, "labelFontSize": 18.5}},
  "text": {"field": "n", "type": "quantitative"}
 }
},
{
 "width": 457, "height": 81,
 "title": {"text": "Number at risk", "fontSize": 18.7, "fontWeight": "normal", "anchor": "start", "frame": "group", "dx": 4, "offset": -1},
 "data": {"name": "risk"},
 "transform": [{"filter": "datum.p == 'B'"}],
 "mark": {"type": "text", "fontSize": 17, "color": "black", "align": "center", "baseline": "middle", "dy": 2},
 "encoding": {
  "x": {"field": "t", "type": "quantitative", "scale": {"domain": [-3, 63], "range": [4, 453], "nice": false, "zero": false}, "axis": {"values": [0,12,24,36,48,60], "title": "Time (months)", "labelPadding": 1, "titlePadding": 0}},
  "y": {"field": "g", "type": "nominal", "scale": {"type": "point", "domain": ["Below median", "Above median"], "padding": 0.6}, "axis": {"title": null, "offset": -4, "labelPadding": 2, "labelFontSize": 18.5}},
  "text": {"field": "n", "type": "quantitative"}
 }
},
{
 "width": 457, "height": 81,
 "title": {"text": "Number at risk", "fontSize": 18.7, "fontWeight": "normal", "anchor": "start", "frame": "group", "dx": 4, "offset": -1},
 "data": {"name": "risk"},
 "transform": [{"filter": "datum.p == 'C'"}],
 "mark": {"type": "text", "fontSize": 17, "color": "black", "align": "center", "baseline": "middle", "dy": 2},
 "encoding": {
  "x": {"field": "t", "type": "quantitative", "scale": {"domain": [-3, 63], "range": [4, 453], "nice": false, "zero": false}, "axis": {"values": [0,12,24,36,48,60], "title": "Time (months)", "labelPadding": 1, "titlePadding": 0}},
  "y": {"field": "g", "type": "nominal", "scale": {"type": "point", "domain": ["Below median", "Above median"], "padding": 0.6}, "axis": {"title": null, "offset": -4, "labelPadding": 2, "labelFontSize": 18.5}},
  "text": {"field": "n", "type": "quantitative"}
 }
}
]
}
